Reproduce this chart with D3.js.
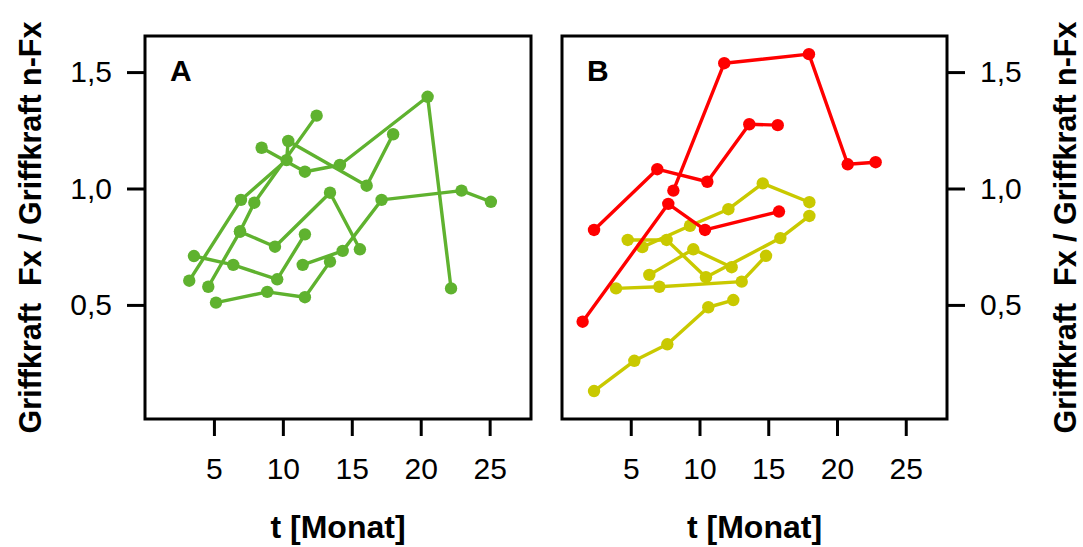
<!DOCTYPE html>
<html>
<head>
<meta charset="utf-8">
<script src="https://cdn.jsdelivr.net/npm/d3@7"></script>
<style>
  html, body { margin: 0; padding: 0; background: #ffffff; }
  svg { display: block; }
  text { font-family: "Liberation Sans", Arial, sans-serif; }
</style>
</head>
<body>
<svg id="chart" width="1083" height="547"></svg>
<script>
// ---------------- data ----------------
const xTicks = [5, 10, 15, 20, 25];
const yTicks = [0.5, 1.0, 1.5];
const yTickLabels = ["0,5", "1,0", "1,5"];
const xTitle = "t [Monat]";
const yTitle = "Griffkraft\u00a0\u00a0Fx / Griffkraft n-Fx";

// Panel A (green) – [t in Monat, ratio]
const A1 = [[3.21, 0.604], [6.96, 0.951], [10.27, 1.122], [10.39, 1.204], [16.08, 1.012], [18.0, 1.233]];
const A2 = [[8.46, 1.175], [11.6, 1.072], [14.14, 1.101], [20.5, 1.394], [22.2, 0.571]];
const A3 = [[4.59, 0.578], [6.89, 0.815], [7.93, 0.939], [12.45, 1.313]];
const A4 = [[6.89, 0.815], [9.43, 0.750], [13.42, 0.982], [15.59, 0.739]];
const A5 = [[3.55, 0.710], [6.40, 0.672], [9.59, 0.610], [11.6, 0.803]];
const A6 = [[5.15, 0.510], [8.87, 0.556], [11.6, 0.533], [13.42, 0.686]];
const A7 = [[11.44, 0.672], [14.34, 0.732], [17.16, 0.951], [22.96, 0.991], [25.09, 0.943]];

// Panel B (red)
const R1 = [[2.33, 0.822], [6.93, 1.083], [10.57, 1.029], [13.62, 1.276], [15.69, 1.272]];
const R2 = [[1.50, 0.428], [7.73, 0.934], [10.40, 0.822], [15.78, 0.901]];
const R3 = [[8.10, 0.991], [11.80, 1.538], [17.96, 1.577], [20.78, 1.104], [22.81, 1.113]];

// Panel B (yellow)
const Y1 = [[5.84, 0.748], [9.31, 0.840], [12.10, 0.911], [14.6, 1.022], [17.99, 0.941]];
const Y2 = [[4.78, 0.779], [7.61, 0.779], [10.47, 0.619], [15.88, 0.787], [17.99, 0.882]];
const Y3 = [[6.35, 0.629], [9.55, 0.739], [12.34, 0.662]];
const Y4 = [[3.93, 0.571], [7.08, 0.578], [13.07, 0.600], [14.84, 0.711]];
const Y5 = [[2.33, 0.130], [5.26, 0.260], [7.66, 0.331], [10.64, 0.490], [12.46, 0.521]];

const GREEN = "#5fb22f", RED = "#ff0000", YELLOW = "#c9c900";

const panelA = { label: "A", x0: 145, x1: 531, side: "left",
  series: [A1, A2, A3, A4, A5, A6, A7].map(d => ({ pts: d, color: GREEN })) };
const panelB = { label: "B", x0: 562, x1: 947, side: "right",
  series: [Y1, Y2, Y3, Y4, Y5].map(d => ({ pts: d, color: YELLOW }))
    .concat([R1, R2, R3].map(d => ({ pts: d, color: RED }))) };

// ---------------- drawing ----------------
const svg = d3.select("#chart");
const plotTop = 36, plotBottom = 419;
const y = d3.scaleLinear().domain([0.01, 1.655]).range([plotBottom, plotTop]);

function drawPanel(p) {
  const x = d3.scaleLinear().domain([0, 28]).range([p.x0, p.x1]);
  const g = svg.append("g");

  // series
  const line = d3.line().x(d => x(d[0])).y(d => y(d[1]));
  p.series.forEach(s => {
    g.append("path").attr("d", line(s.pts))
      .attr("fill", "none").attr("stroke", s.color)
      .attr("stroke-width", 3.4).attr("stroke-linejoin", "round");
    g.selectAll(null).data(s.pts).enter().append("circle")
      .attr("cx", d => x(d[0])).attr("cy", d => y(d[1]))
      .attr("r", 6.2).attr("fill", s.color);
  });

  // frame
  g.append("rect").attr("x", p.x0).attr("y", plotTop)
    .attr("width", p.x1 - p.x0).attr("height", plotBottom - plotTop)
    .attr("fill", "none").attr("stroke", "#000").attr("stroke-width", 3);

  // x axis
  const xAxis = d3.axisBottom(x).tickValues(xTicks).tickSize(17).tickPadding(22)
    .tickFormat(d3.format("d"));
  const xa = g.append("g").attr("transform", `translate(0,${plotBottom})`).call(xAxis);
  xa.select(".domain").remove();
  xa.selectAll(".tick line").attr("stroke", "#000").attr("stroke-width", 3);
  xa.selectAll(".tick text").attr("font-size", 30).attr("fill", "#000")
    .attr("font-family", "'Liberation Sans', Arial, sans-serif");

  // y axis
  const fmt = v => yTickLabels[yTicks.indexOf(v)];
  const yAxis = (p.side === "left" ? d3.axisLeft(y) : d3.axisRight(y))
    .tickValues(yTicks).tickSize(18).tickPadding(15).tickFormat(fmt);
  const ya = g.append("g")
    .attr("transform", `translate(${p.side === "left" ? p.x0 : p.x1},0)`).call(yAxis);
  ya.select(".domain").remove();
  ya.selectAll(".tick line").attr("stroke", "#000").attr("stroke-width", 3);
  ya.selectAll(".tick text").attr("font-size", 30).attr("fill", "#000")
    .attr("font-family", "'Liberation Sans', Arial, sans-serif");

  // panel label
  g.append("text").attr("x", p.x0 + 25).attr("y", 80.5)
    .attr("font-size", 30).attr("font-weight", "bold").attr("fill", "#000")
    .text(p.label);

  // x title
  g.append("text").attr("x", (p.x0 + p.x1) / 2).attr("y", 538)
    .attr("text-anchor", "middle").attr("font-size", 32).attr("font-weight", "bold")
    .attr("fill", "#000").text(xTitle);

  // y title
  const tx = p.side === "left" ? 41 : 1076;
  g.append("text")
    .attr("transform", `translate(${tx},${(plotTop + plotBottom) / 2}) rotate(-90)`)
    .attr("text-anchor", "middle").attr("font-size", 30.5).attr("font-weight", "bold")
    .attr("fill", "#000").text(yTitle);
}

drawPanel(panelA);
drawPanel(panelB);
</script>
</body>
</html>
